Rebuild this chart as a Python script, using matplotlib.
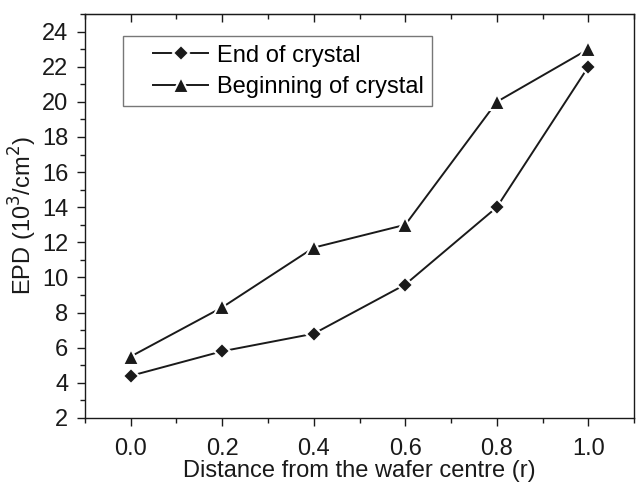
import matplotlib
matplotlib.use("Agg")
import numpy as np
import matplotlib.pyplot as plt
from matplotlib.ticker import MultipleLocator
from matplotlib.legend_handler import HandlerLine2D

plt.rcParams['font.family'] = ['Liberation Sans', 'DejaVu Sans']

r = [0.0, 0.2, 0.4, 0.6, 0.8, 1.0]
end_of_crystal = [4.4, 5.8, 6.8, 9.6, 14.0, 22.0]
beginning_of_crystal = [5.5, 8.3, 11.7, 13.0, 20.0, 23.0]


class ShiftedHandler(HandlerLine2D):
    def __init__(self, frac=0.29, **kw):
        super().__init__(**kw)
        self.frac = frac

    def get_xdata(self, legend, xdescent, ydescent, width, height, fontsize):
        x0 = -xdescent + width * self.frac
        x1 = -xdescent + width
        return np.array([x0, x1]), np.array([(x0 + x1) / 2.0])


fs = 17
fig = plt.figure(figsize=(6.36, 4.84), dpi=100)
ax = fig.add_axes([0.1336, 0.1364, 0.8634, 0.8346])

col = '#1a1a1a'
l1, = ax.plot(r, end_of_crystal, color=col, lw=1.4, marker='D', ms=8.6,
              mfc=col, mec='white', mew=1.5, label='End of crystal')
l2, = ax.plot(r, beginning_of_crystal, color=col, lw=1.4, marker='^', ms=11.2,
              mfc=col, mec='white', mew=1.5, label='Beginning of crystal')

ax.set_xlim(-0.1, 1.1)
ax.set_ylim(2, 25)
ax.xaxis.set_minor_locator(MultipleLocator(0.1))
ax.yaxis.set_minor_locator(MultipleLocator(1))
ax.set_xticks([0.0, 0.2, 0.4, 0.6, 0.8, 1.0])
ax.set_xticklabels(['0.0', '0.2', '0.4', '0.6', '0.8', '1.0'])
ax.set_yticks(list(range(2, 25, 2)))

ax.tick_params(axis='both', which='major', direction='out', length=6, width=1,
               labelsize=fs, colors=col)
ax.tick_params(axis='x', which='major', pad=8.5)
ax.tick_params(axis='y', which='major', pad=6)
ax.tick_params(axis='both', which='minor', direction='out', length=3.5, width=1, colors=col)
ax.tick_params(right=False, top=False)

sec = ax.secondary_xaxis('top')
sec.set_xticks([0.0, 0.2, 0.4, 0.6, 0.8, 1.0])
sec.xaxis.set_minor_locator(MultipleLocator(0.1))
sec.tick_params(which='major', direction='in', length=6, width=1, labeltop=False, colors=col)
sec.tick_params(which='minor', direction='in', length=3.5, width=1, colors=col)
sec.spines['top'].set_color(col)

for s in ax.spines.values():
    s.set_color(col)
    s.set_linewidth(1.0)

ax.set_xlabel('Distance from the wafer centre (r)', fontsize=fs, color=col, labelpad=0)
ax.set_ylabel('EPD (10$^3$/cm$^2$)', fontsize=fs, color=col, labelpad=2)

leg = ax.legend(handles=[l1, l2], loc='upper left', bbox_to_anchor=(0.069, 0.945), fontsize=fs,
                frameon=True, fancybox=False, edgecolor='#555555', handlelength=3.25,
                borderpad=0.35, labelspacing=0.4, handletextpad=0.38, borderaxespad=0,
                handler_map={l1: ShiftedHandler(), l2: ShiftedHandler()})
leg.get_frame().set_linewidth(1.0)

fig.savefig('out.png', dpi=100)
